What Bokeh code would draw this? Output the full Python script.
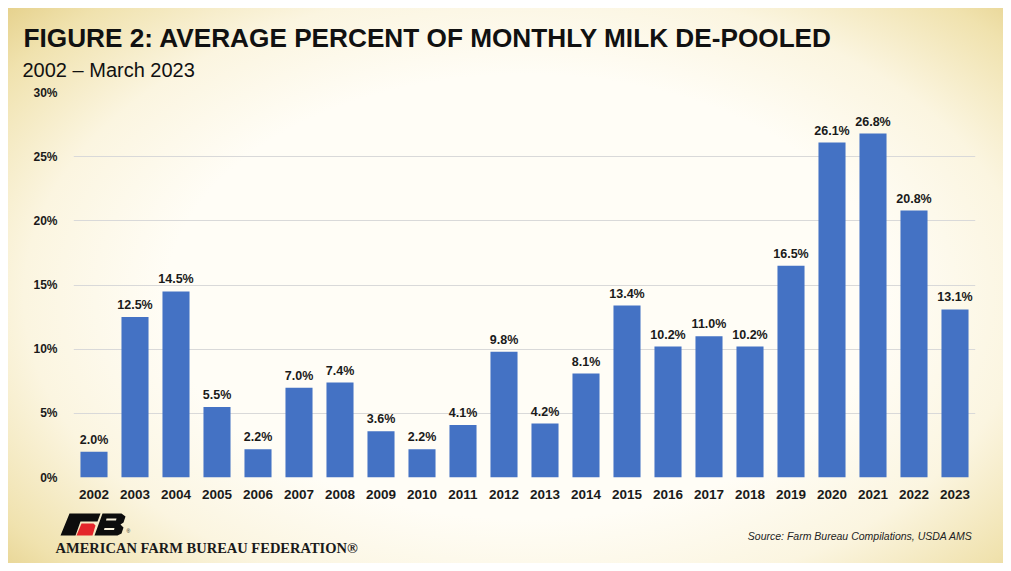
from bokeh.plotting import figure
from bokeh.layouts import column
from bokeh.models import (ColumnDataSource, FactorRange, Range1d, FixedTicker,
                          PrintfTickFormatter)
from bokeh.core.properties import value
from bokeh.embed import file_html
from bokeh.resources import INLINE

years = ["2002", "2003", "2004", "2005", "2006", "2007", "2008", "2009", "2010", "2011",
         "2012", "2013", "2014", "2015", "2016", "2017", "2018", "2019", "2020", "2021",
         "2022", "2023"]
pct_depooled = [2.0, 12.5, 14.5, 5.5, 2.2, 7.0, 7.4, 3.6, 2.2, 4.1,
                9.8, 4.2, 8.1, 13.4, 10.2, 11.0, 10.2, 16.5, 26.1, 26.8,
                20.8, 13.1]
y_ticks = [0, 5, 10, 15, 20, 25, 30]

title_text = "FIGURE 2: AVERAGE PERCENT OF MONTHLY MILK DE-POOLED"
subtitle_text = "2002 \u2013 March 2023"
source_text = "Source: Farm Bureau Compilations, USDA AMS"
org_text = "AMERICAN FARM BUREAU FEDERATION\u00ae"

labels = ["%.1f%%" % v for v in pct_depooled]
src = ColumnDataSource(dict(year=years, val=pct_depooled, lab=labels))

W = 995
TOP_H = 76      # page y 8 .. 84
MAIN_H = 421    # page y 84 .. 505
BOT_H = 58      # page y 505 .. 563


def panel(h):
    f = figure(width=W, height=h, x_range=Range1d(0, W), y_range=Range1d(h, 0),
               output_backend="svg", toolbar_location=None,
               x_axis_location=None, y_axis_location=None,
               min_border=0, min_border_left=0, min_border_right=0,
               min_border_top=0, min_border_bottom=0, frame_align=False)
    f.border_fill_color = None
    f.background_fill_color = None
    f.outline_line_color = None
    f.grid.visible = False
    return f


# ---- top: title & subtitle ----
top = panel(TOP_H)
top.text(x=[15], y=[29], text=[title_text], text_font=value("Liberation Sans"),
         text_font_style="bold", text_font_size="26.2px", text_color="#111111",
         text_baseline="alphabetic")
top.text(x=[14], y=[61], text=[subtitle_text], text_font=value("Liberation Sans"),
         text_font_size="20px", text_color="#111111", text_baseline="alphabetic")

# ---- main chart ----
p = figure(width=W, height=MAIN_H, x_range=FactorRange(*years, range_padding=0),
           y_range=Range1d(0, 30), output_backend="svg", toolbar_location=None,
           min_border_left=65, min_border_right=28, min_border_top=8, min_border_bottom=28,
           frame_align=False)
p.border_fill_color = None
p.background_fill_color = None
p.outline_line_color = None

p.vbar(x="year", top="val", width=0.66, source=src, fill_color="#4472C4", line_color=None)
p.text(x="year", y="val", text="lab", source=src, y_offset=-5,
       text_align="center", text_baseline="bottom",
       text_font=value("Liberation Sans"), text_font_style="bold",
       text_font_size="12.5px", text_color="#1a1a1a")

p.xgrid.grid_line_color = None
p.ygrid.grid_line_color = "#d9d9d9"
p.ygrid.grid_line_width = 1
p.yaxis.ticker = FixedTicker(ticks=y_ticks)
p.yaxis.formatter = PrintfTickFormatter(format="%d%%")
for ax in (p.xaxis, p.yaxis):
    ax.axis_line_color = None
    ax.major_tick_line_color = None
    ax.minor_tick_line_color = None
    ax.major_label_text_font = "Liberation Sans"
    ax.major_label_text_font_style = "bold"
    ax.major_label_text_color = "#1a1a1a"
p.yaxis.major_label_text_font_size = "12px"
p.yaxis.major_label_standoff = 10
p.xaxis.major_label_text_font_size = "13.5px"
p.xaxis.major_label_standoff = 6

# ---- bottom: logo, org name, source (coords: x = page - 8, y = page - 505) ----
bot = panel(BOT_H)
bot.text(x=[964], y=[30], text=[source_text], text_font=value("Liberation Sans"),
         text_font_style="italic", text_font_size="10.5px", text_color="#222222",
         text_align="right", text_baseline="alphabetic")
bot.text(x=[47], y=[42], text=[org_text], text_font=value("Liberation Serif"),
         text_font_style="bold", text_font_size="14.5px", text_color="#1a1a1a",
         text_baseline="alphabetic")

OX, OY = 8, 505
f_shape = [(69, 513), (100, 513), (97, 521), (80, 521), (75, 535), (60, 535)]
red_shape = [(81, 523), (93, 523), (95, 525), (92, 535), (76, 535)]
b_shape = [(102, 513), (121, 513), (125, 516), (123, 522), (120, 524), (123, 527),
           (121, 533), (117, 535), (94, 535)]
notch1 = [(106, 518), (116, 518), (115.5, 520), (105.5, 520)]
notch2 = [(104, 527.5), (114, 527.5), (113.5, 529.5), (103.5, 529.5)]
shapes = [f_shape, red_shape, b_shape, notch1, notch2]
colors = ["#0d0d0d", "#e4262b", "#0d0d0d", "#f8f1dc", "#f8f1dc"]
bot.patches(xs=[[a - OX for a, b in s] for s in shapes],
            ys=[[b - OY for a, b in s] for s in shapes],
            fill_color=colors, line_color=None)
bot.text(x=[126 - OX], y=[530 - OY], text=["\u00ae"], text_font=value("Liberation Sans"),
         text_font_size="5px", text_color="#1a1a1a", text_baseline="alphabetic")

layout = column(top, p, bot, spacing=0)
layout.styles = {
    "margin": "8px",
    "background": "radial-gradient(ellipse 72% 80% at 52% 52%, #fffdf6 50%, #fbf5e0 70%, #f0e2ae 88%, #e3cd84 100%)",
}

open("out.html", "w").write(file_html(layout, INLINE))
